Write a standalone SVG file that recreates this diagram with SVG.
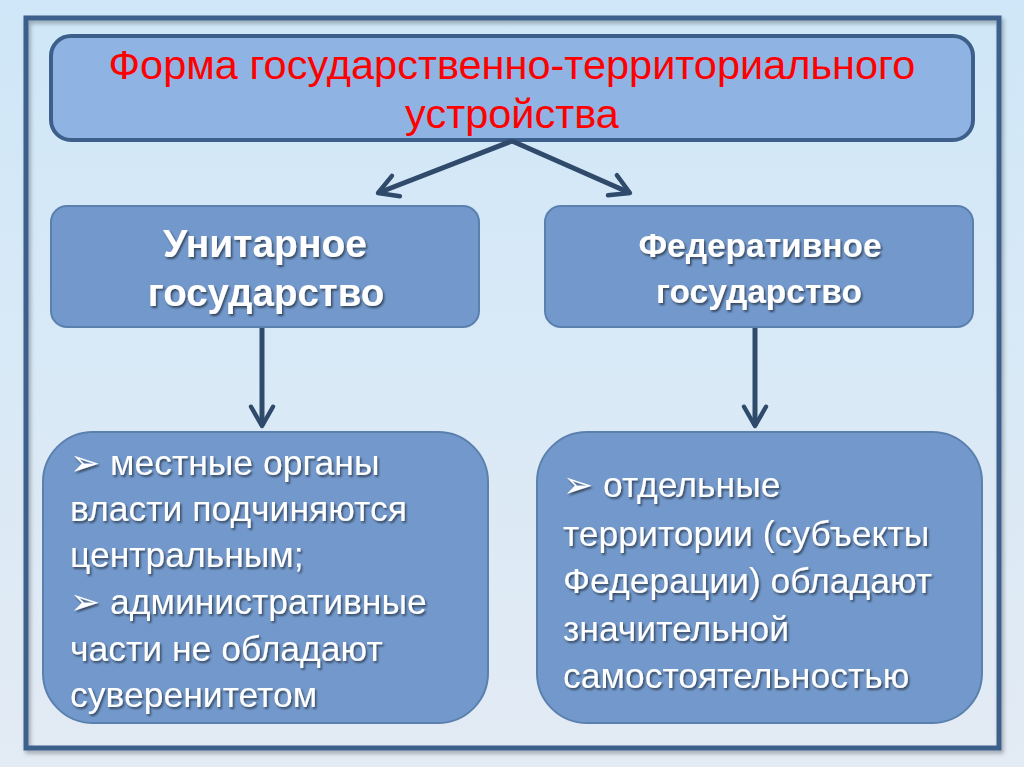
<svg xmlns="http://www.w3.org/2000/svg" width="1024" height="767" viewBox="0 0 1024 767">
<defs>
<linearGradient id="bg" x1="0" y1="0" x2="0" y2="1">
<stop offset="0" stop-color="#cfe7f8"/>
<stop offset="1" stop-color="#e3ebf4"/>
</linearGradient>
<filter id="ts" x="-10%" y="-10%" width="120%" height="130%">
<feDropShadow dx="1.5" dy="2" stdDeviation="1.2" flood-color="#000" flood-opacity="0.55"/>
</filter>
<filter id="bs" x="-5%" y="-5%" width="110%" height="115%">
<feDropShadow dx="2" dy="3" stdDeviation="2" flood-color="#000" flood-opacity="0.3"/>
</filter>
<marker id="ah" viewBox="0 0 10 10" refX="8" refY="5" markerWidth="5.5" markerHeight="5.5" markerUnits="strokeWidth" orient="auto">
<path d="M1,1 L8,5 L1,9" fill="none" stroke="#2f4a6a" stroke-width="1.6" stroke-linecap="round" stroke-linejoin="round"/>
</marker>
<style>
.box{fill:#7399cc;stroke:#5b80ae;stroke-width:2}
.wt{fill:#ffffff;font-family:"Liberation Sans","DejaVu Sans",sans-serif;filter:url(#ts)}
.hd{font-weight:bold;text-anchor:middle}
.body{font-size:35.5px}
.bl{font-family:"DejaVu Sans",sans-serif;font-size:36px}
.conn{stroke:#2f4a6a;stroke-width:5;fill:none;marker-end:url(#ah)}
.ttl{font-family:"Liberation Sans","DejaVu Sans",sans-serif;font-size:41.5px;fill:#ff0000;text-anchor:middle}
</style>
</defs>
<rect x="0" y="0" width="1024" height="767" fill="url(#bg)"/>
<rect x="26" y="18" width="973" height="730" fill="none" stroke="#3c5f8b" stroke-width="5" filter="url(#bs)"/>
<g id="title">
<rect x="51" y="36" width="922" height="104" rx="20" fill="#8fb3e2" stroke="#3c5f8b" stroke-width="4"/>
<text class="ttl" x="512" y="79">Форма государственно-территориального</text>
<text class="ttl" x="512" y="128">устройства</text>
</g>
<g id="connectors">
<line class="conn" x1="512" y1="141" x2="378" y2="193"/>
<line class="conn" x1="512" y1="141" x2="630" y2="193"/>
<line class="conn" x1="262" y1="328" x2="262" y2="426"/>
<line class="conn" x1="755" y1="328" x2="755" y2="426"/>
</g>
<g id="unitary">
<rect class="box" x="51" y="206" width="428" height="121" rx="16"/>
<text class="wt hd" x="265" y="257" font-size="39">Унитарное</text>
<text class="wt hd" x="266" y="306" font-size="38.5">государство</text>
</g>
<g id="federal">
<rect class="box" x="545" y="206" width="428" height="121" rx="16"/>
<text class="wt hd" x="760" y="257" font-size="33.5">Федеративное</text>
<text class="wt hd" x="759" y="303" font-size="33.5">государство</text>
</g>
<g id="unitary-desc">
<rect class="box" x="43" y="432" width="445" height="291" rx="50"/>
<text class="wt body" x="70" y="475"><tspan class="bl">➢</tspan> местные органы</text>
<text class="wt body" x="70" y="521">власти подчиняются</text>
<text class="wt body" x="70" y="567">центральным;</text>
<text class="wt body" x="70" y="614"><tspan class="bl">➢</tspan> административные</text>
<text class="wt body" x="70" y="661">части не обладают</text>
<text class="wt body" x="70" y="707">суверенитетом</text>
</g>
<g id="federal-desc">
<rect class="box" x="537" y="432" width="445" height="291" rx="50"/>
<text class="wt body" x="563" y="497"><tspan class="bl">➢</tspan> отдельные</text>
<text class="wt body" x="563" y="546">территории (субъекты</text>
<text class="wt body" x="563" y="593">Федерации) обладают</text>
<text class="wt body" x="563" y="641">значительной</text>
<text class="wt body" x="563" y="688">самостоятельностью</text>
</g>
</svg>
